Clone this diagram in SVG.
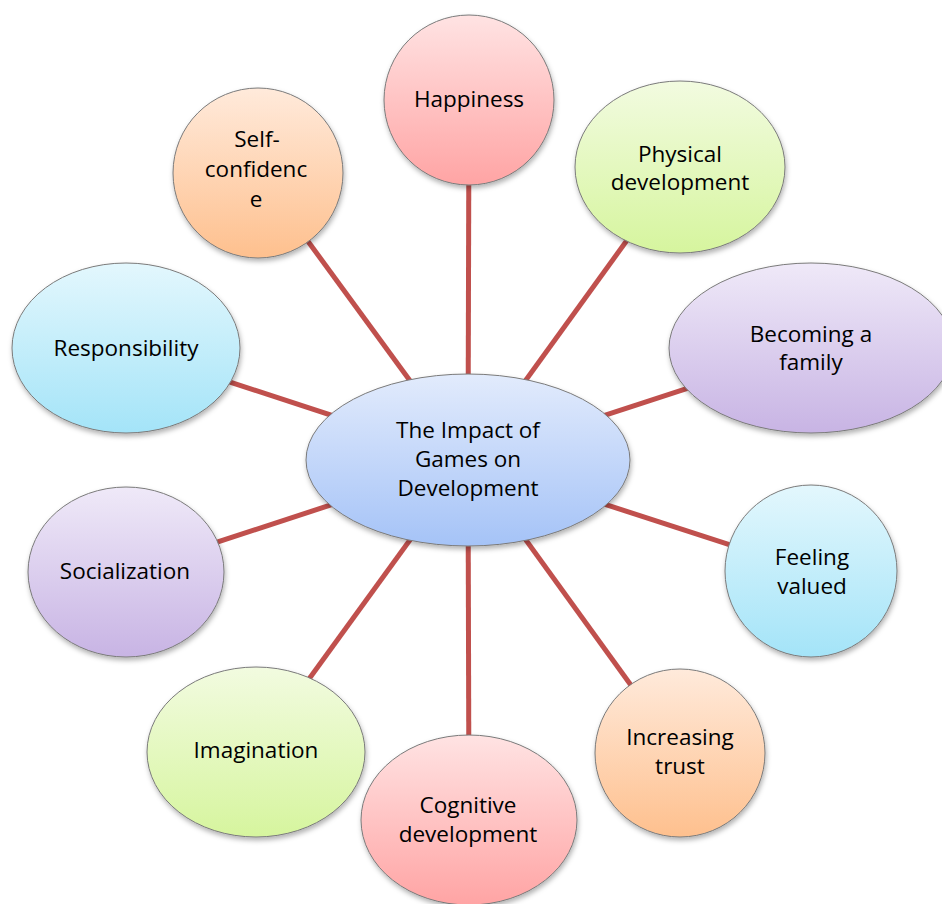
<svg xmlns="http://www.w3.org/2000/svg" width="942" height="904" viewBox="0 0 942 904">
<defs>
<linearGradient id="gRed" x1="0" y1="0" x2="0" y2="1"><stop offset="0" stop-color="#ffe3e3"/><stop offset="1" stop-color="#ffa4a4"/></linearGradient>
<linearGradient id="gGreen" x1="0" y1="0" x2="0" y2="1"><stop offset="0" stop-color="#f2fbe0"/><stop offset="1" stop-color="#d6f59e"/></linearGradient>
<linearGradient id="gPurple" x1="0" y1="0" x2="0" y2="1"><stop offset="0" stop-color="#efe9f8"/><stop offset="1" stop-color="#c8b4e4"/></linearGradient>
<linearGradient id="gBlue" x1="0" y1="0" x2="0" y2="1"><stop offset="0" stop-color="#e3f7fd"/><stop offset="1" stop-color="#a4e4f8"/></linearGradient>
<linearGradient id="gOrange" x1="0" y1="0" x2="0" y2="1"><stop offset="0" stop-color="#ffeadb"/><stop offset="1" stop-color="#fec08e"/></linearGradient>
<linearGradient id="gCenter" x1="0" y1="0" x2="0" y2="1"><stop offset="0" stop-color="#e2ebfc"/><stop offset="1" stop-color="#a5c3f7"/></linearGradient>
<filter id="sh" x="-20%" y="-20%" width="140%" height="150%"><feDropShadow dx="1" dy="3" stdDeviation="2.5" flood-color="#000" flood-opacity="0.3"/></filter>
</defs>
<style>
.n{stroke:#7a7a7a;stroke-width:1;filter:url(#sh)}
.t{font-family:"Open Sans","Liberation Sans",sans-serif;font-size:22.5px;fill:#000;text-anchor:middle}
.c{stroke:#c0504d;stroke-width:5;stroke-linecap:butt}
</style>
<rect width="942" height="904" fill="#ffffff"/>
<g id="connectors">
<line class="c" x1="468" y1="460" x2="469" y2="100"/>
<line class="c" x1="468" y1="460" x2="680" y2="167"/>
<line class="c" x1="468" y1="460" x2="811" y2="348"/>
<line class="c" x1="468" y1="460" x2="811" y2="571"/>
<line class="c" x1="468" y1="460" x2="680" y2="753"/>
<line class="c" x1="468" y1="460" x2="469" y2="820"/>
<line class="c" x1="468" y1="460" x2="256" y2="752"/>
<line class="c" x1="468" y1="460" x2="126" y2="572"/>
<line class="c" x1="468" y1="460" x2="126" y2="348"/>
<line class="c" x1="468" y1="460" x2="258" y2="173"/>
</g>
<g id="happiness"><ellipse class="n" cx="469" cy="100" rx="85" ry="85" fill="url(#gRed)"/><text class="t" x="469" y="107">Happiness</text></g>
<g id="physical"><ellipse class="n" cx="680" cy="167" rx="105" ry="86" fill="url(#gGreen)"/><text class="t" x="680" y="162">Physical</text><text class="t" x="680" y="190">development</text></g>
<g id="family"><ellipse class="n" cx="811" cy="348" rx="142" ry="85" fill="url(#gPurple)"/><text class="t" x="811" y="342">Becoming a</text><text class="t" x="811" y="370">family</text></g>
<g id="valued"><ellipse class="n" cx="811" cy="571" rx="86" ry="86" fill="url(#gBlue)"/><text class="t" x="812" y="565">Feeling</text><text class="t" x="812" y="594">valued</text></g>
<g id="trust"><ellipse class="n" cx="680" cy="753" rx="85" ry="84" fill="url(#gOrange)"/><text class="t" x="680" y="745">Increasing</text><text class="t" x="680" y="774">trust</text></g>
<g id="cognitive"><ellipse class="n" cx="469" cy="820" rx="108" ry="85" fill="url(#gRed)"/><text class="t" x="468" y="813">Cognitive</text><text class="t" x="468" y="842">development</text></g>
<g id="imagination"><ellipse class="n" cx="256" cy="752" rx="109" ry="85" fill="url(#gGreen)"/><text class="t" x="256" y="758">Imagination</text></g>
<g id="socialization"><ellipse class="n" cx="126" cy="572" rx="98" ry="85" fill="url(#gPurple)"/><text class="t" x="125" y="579">Socialization</text></g>
<g id="responsibility"><ellipse class="n" cx="126" cy="348" rx="114" ry="85" fill="url(#gBlue)"/><text class="t" x="126" y="356">Responsibility</text></g>
<g id="selfconfidence"><ellipse class="n" cx="258" cy="173" rx="85" ry="85" fill="url(#gOrange)"/><text class="t" x="257" y="147">Self-</text><text class="t" x="256" y="177">confidenc</text><text class="t" x="256" y="207">e</text></g>
<g id="center"><ellipse class="n" cx="468" cy="460" rx="162" ry="86" fill="url(#gCenter)"/><text class="t" x="468" y="438">The Impact of</text><text class="t" x="468" y="467">Games on</text><text class="t" x="468" y="496">Development</text></g>
</svg>
